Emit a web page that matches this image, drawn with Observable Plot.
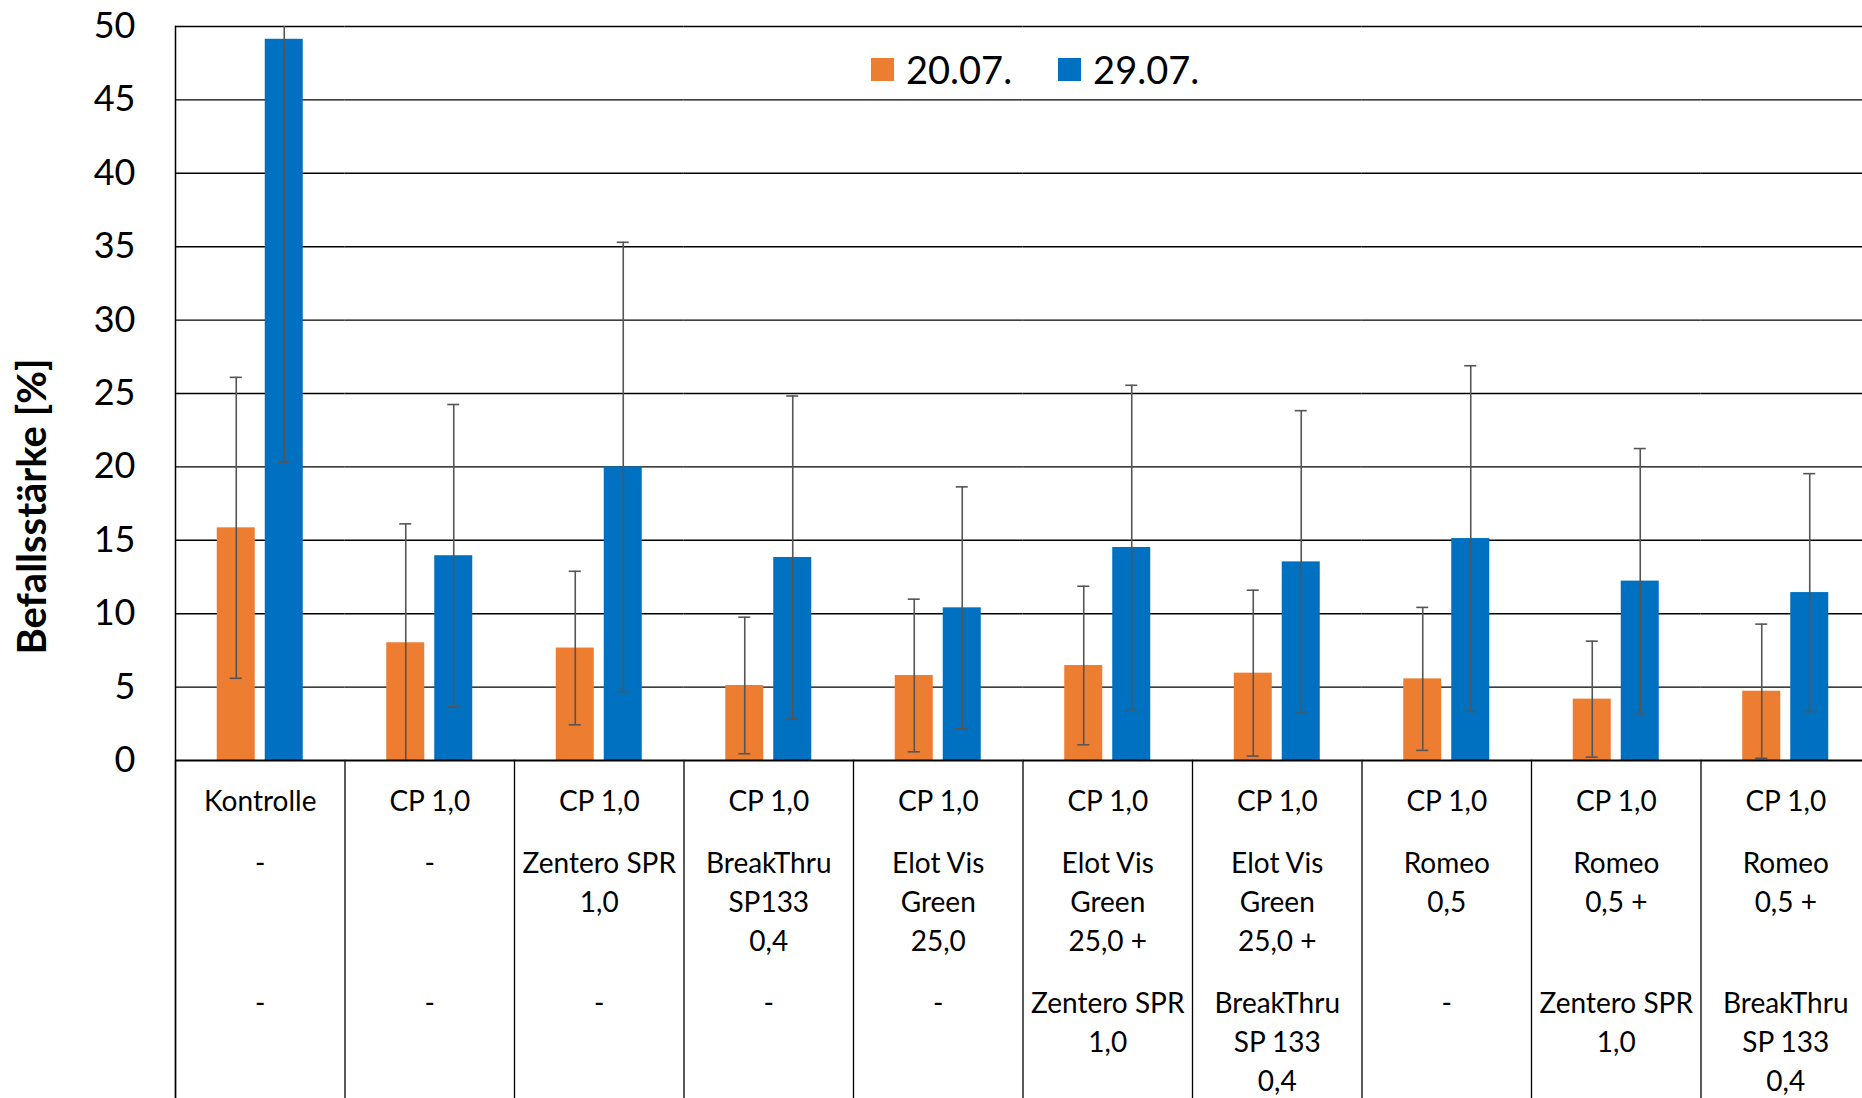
<!DOCTYPE html>
<html>
<head>
<meta charset="utf-8">
<script src="https://cdn.jsdelivr.net/npm/d3@7"></script>
<script src="https://cdn.jsdelivr.net/npm/@observablehq/plot@0.6"></script>
<style>
  html, body { margin: 0; padding: 0; background: #fff; overflow: hidden; }
  #wrap { position: relative; width: 1862px; height: 1098px; overflow: hidden; font-family: Lato, sans-serif; color: #000; }
  #legend { position: absolute; left: 871px; top: 50px; display: flex; align-items: center; font-size: 38px; line-height: 38px; }
  #legend .item { display: flex; align-items: center; margin-right: 46px; }
  #legend .sw { width: 23px; height: 23px; margin-right: 12px; }
</style>
</head>
<body>
<div id="wrap">
  <div id="chart"></div>
  <div id="legend"></div>
</div>
<script>
// ---- data ----
const categories = ["Kontrolle", "CP", "CP+Zentero", "CP+BreakThru", "CP+ElotVis", "CP+ElotVis+Zentero", "CP+ElotVis+BreakThru", "CP+Romeo", "CP+Romeo+Zentero", "CP+Romeo+BreakThru"];
const row1 = ["Kontrolle", "CP 1,0", "CP 1,0", "CP 1,0", "CP 1,0", "CP 1,0", "CP 1,0", "CP 1,0", "CP 1,0", "CP 1,0"];
const row2 = ["-", "-", "Zentero SPR\n1,0", "BreakThru\nSP133\n0,4", "Elot Vis\nGreen\n25,0", "Elot Vis\nGreen\n25,0 +", "Elot Vis\nGreen\n25,0 +", "Romeo\n0,5", "Romeo\n0,5 +", "Romeo\n0,5 +"];
const row3 = ["-", "-", "-", "-", "-", "Zentero SPR\n1,0", "BreakThru\nSP 133\n0,4", "-", "Zentero SPR\n1,0", "BreakThru\nSP 133\n0,4"];
const series = ["20.07.", "29.07."];
const colors = ["#ED7D31", "#0070C0"];
const mean2007 = [15.85, 8.02, 7.66, 5.11, 5.79, 6.47, 5.95, 5.56, 4.18, 4.72];
const err2007  = [10.25, 8.10, 5.23, 4.65, 5.20, 5.40, 5.65, 4.87, 3.95, 4.57];
const mean2907 = [49.13, 13.95, 20.0, 13.83, 10.40, 14.51, 13.53, 15.12, 12.22, 11.44];
const err2907  = [28.8, 10.3, 15.3, 11.0, 8.24, 11.05, 10.3, 11.77, 9.03, 8.1];
const yTicks = [0, 5, 10, 15, 20, 25, 30, 35, 40, 45, 50];
const yTitle = "Befallsstärke [%]";

// ---- derived tables ----
const yMin = yTicks[0], yMax = yTicks[yTicks.length - 1];
const bars = [];
categories.forEach((c, i) => {
  [[series[0], mean2007[i], err2007[i]], [series[1], mean2907[i], err2907[i]]].forEach(([s, v, e]) => {
    const lo = v - e, hi = v + e;
    bars.push({cat: c, series: s, value: v,
      lo: Math.max(lo, yMin), hi: Math.min(hi, yMax),
      loCap: lo >= yMin, hiCap: hi <= yMax});
  });
});
const table = categories.map((c, i) => ({cat: c, r1: row1[i], r2: row2[i], r3: row3[i]}));

const errStroke = "#555555";
const labelFont = 28;
const lh = 39 / labelFont;

const chart = Plot.plot({
  width: 1870,
  height: 1098,
  marginLeft: 175,
  marginRight: 0,
  marginTop: 26,
  marginBottom: 0,
  style: {fontFamily: "Lato, sans-serif", background: "#fff", maxWidth: "none", color: "#000"},
  fx: {domain: categories, padding: 0, round: false, axis: null, label: null},
  x: {domain: series, paddingInner: 0.208, paddingOuter: 0.87, round: false, axis: null},
  y: {domain: [yMin, yMax], range: [760, 26], axis: null},
  color: {domain: series, range: colors},
  marks: [
    Plot.gridY(yTicks.filter(v => v > yMin), {stroke: "#000", strokeOpacity: 1, strokeWidth: 1.4}),
    Plot.barY(bars, {fx: "cat", x: "series", y: "value", fill: "series"}),
    Plot.ruleX(bars, {fx: "cat", x: "series", y1: "lo", y2: "hi", stroke: errStroke, strokeWidth: 1.6}),
    Plot.tickY(bars.filter(d => d.loCap), {fx: "cat", x: "series", y: "lo", stroke: errStroke, strokeWidth: 1.6, insetLeft: 13, insetRight: 13}),
    Plot.tickY(bars.filter(d => d.hiCap), {fx: "cat", x: "series", y: "hi", stroke: errStroke, strokeWidth: 1.6, insetLeft: 13, insetRight: 13}),
    Plot.ruleY([yMin], {stroke: "#000", strokeWidth: 2}),
    Plot.frame({anchor: "left", insetTop: 734, stroke: "#000", strokeWidth: 1.3}),
    Plot.frame({anchor: "left", facetAnchor: "left", stroke: "#000", strokeWidth: 1.5}),
    Plot.axisY(yTicks, {tickSize: 0, tickPadding: 40, fontSize: 36, label: null}),
    Plot.text([yTitle], {text: d => d, frameAnchor: "left", facetAnchor: "left", textAnchor: "middle", rotate: -90, dx: -142, dy: -56, fontSize: 40, fontWeight: "bold"}),
    Plot.text(table, {fx: "cat", text: "r1", frameAnchor: "bottom", lineAnchor: "top", dy: -315, fontSize: labelFont, lineHeight: lh}),
    Plot.text(table, {fx: "cat", text: "r2", frameAnchor: "bottom", lineAnchor: "top", dy: -253, fontSize: labelFont, lineHeight: lh}),
    Plot.text(table, {fx: "cat", text: "r3", frameAnchor: "bottom", lineAnchor: "top", dy: -113, fontSize: labelFont, lineHeight: lh})
  ]
});
document.getElementById("chart").append(chart);

const legend = document.getElementById("legend");
series.forEach((s, i) => {
  const item = document.createElement("div");
  item.className = "item";
  const sw = document.createElement("span");
  sw.className = "sw";
  sw.style.background = colors[i];
  const t = document.createElement("span");
  t.textContent = s;
  item.append(sw, t);
  legend.append(item);
});
</script>
</body>
</html>
